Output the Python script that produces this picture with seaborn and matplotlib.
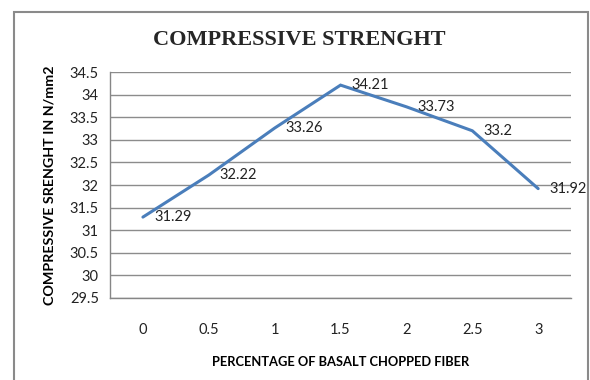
import matplotlib
matplotlib.use("Agg")
import matplotlib.pyplot as plt
from matplotlib.patches import Rectangle
from matplotlib.ticker import FixedLocator, MultipleLocator
import seaborn as sns
import pandas as pd

# Compressive strength vs. basalt chopped fiber content
fiber_pct = ["0", "0.5", "1", "1.5", "2", "2.5", "3"]
strength = [31.29, 32.22, 33.26, 34.21, 33.73, 33.2, 31.92]

df = pd.DataFrame({"pos": range(len(fiber_pct)), "strength": strength})

sns.set_theme(style="white")
plt.rcParams["font.family"] = ["Lato", "DejaVu Sans"]

fig = plt.figure(figsize=(5.9, 3.8), dpi=100)
ax = fig.add_axes([0.1864, 0.2158, 0.7816, 0.5947])

sns.lineplot(data=df, x="pos", y="strength", ax=ax, color="#4A7EBB",
             linewidth=2.2, solid_joinstyle="miter")

ax.set_xlim(-0.5, len(fiber_pct) - 0.5)
ax.set_ylim(29.5, 34.5)
ax.yaxis.set_major_locator(MultipleLocator(0.5))
ax.set_yticklabels([f"{v:g}" for v in ax.get_yticks()])

# category labels centred, tick marks on category boundaries
ax.xaxis.set_major_locator(FixedLocator([i - 0.5 for i in range(len(fiber_pct) + 1)]))
ax.xaxis.set_minor_locator(FixedLocator(list(range(len(fiber_pct)))))
ax.set_xticklabels([""] * (len(fiber_pct) + 1))
ax.set_xticklabels(fiber_pct, minor=True)
ax.tick_params(axis="x", which="major", length=5, width=1, color="#868686", direction="out")
ax.tick_params(axis="x", which="minor", length=0, pad=18, labelsize=10.5, labelcolor="#222222")
ax.tick_params(axis="y", length=5, width=1, color="#868686", direction="out",
               pad=3, labelsize=10.5, labelcolor="#222222")

ax.grid(axis="y", color="#8c8c8c", linewidth=1)
ax.grid(axis="x", visible=False)
for side in ("top", "right"):
    ax.spines[side].set_visible(False)
for side in ("left", "bottom"):
    ax.spines[side].set_color("#868686")
    ax.spines[side].set_linewidth(1)

# value labels to the right of each point
for i, v in enumerate(strength):
    ax.annotate(f"{v:g}", (i, v), xytext=(8, 0), textcoords="offset points",
                ha="left", va="center", fontsize=10.5, color="#222222")

ax.set_xlabel("PERCENTAGE OF BASALT CHOPPED FIBER", fontsize=9.3,
              fontweight="bold", labelpad=14, color="#000000")
ax.set_ylabel("COMPRESSIVE SRENGHT IN N/mm2", fontsize=10.3,
              fontweight="bold", labelpad=10, color="#000000")

fig.text(0.508, 0.895, "COMPRESSIVE STRENGHT", ha="center", va="center",
         fontsize=16, fontweight="bold", family="Liberation Serif")

# chart frame
fig.patches.append(Rectangle((14, -10), 574, 378, transform=None, fill=False,
                             edgecolor="#8a8a8a", linewidth=1.5))

fig.savefig("out.png", dpi=100)
